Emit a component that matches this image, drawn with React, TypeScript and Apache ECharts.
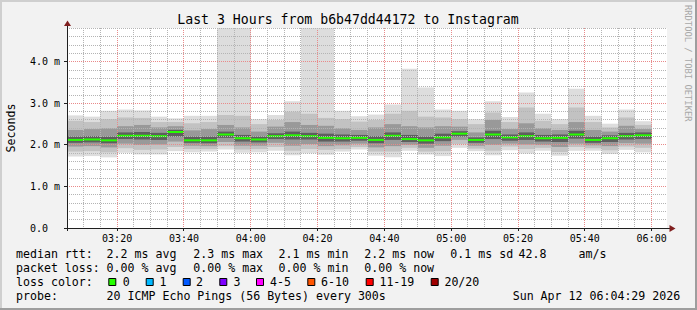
import React, { useEffect, useRef } from 'react';
import * as echarts from 'echarts';

// ---- data ----
const slotStarts = [
  '03:05', '03:10', '03:15', '03:20', '03:25', '03:30', '03:35', '03:40', '03:45', '03:50',
  '03:55', '04:00', '04:05', '04:10', '04:15', '04:20', '04:25', '04:30', '04:35', '04:40',
  '04:45', '04:50', '04:55', '05:00', '05:05', '05:10', '05:15', '05:20', '05:25', '05:30',
  '05:35', '05:40', '05:45', '05:50', '05:55',
];
const medianRtt = [2.12, 2.13, 2.11, 2.22, 2.22, 2.21, 2.31, 2.11, 2.11, 2.25, 2.16, 2.13, 2.21, 2.23, 2.21, 2.17, 2.16, 2.17, 2.12, 2.22, 2.14, 2.11, 2.18, 2.27, 2.12, 2.25, 2.18, 2.21, 2.16, 2.17, 2.25, 2.12, 2.16, 2.21, 2.23];
const minRtt = [1.72, 1.73, 1.70, 1.81, 1.77, 1.77, 1.85, 1.82, 1.84, 1.89, 1.81, 1.82, 1.86, 1.75, 1.80, 1.76, 1.84, 1.89, 1.74, 1.70, 1.86, 1.77, 1.73, 1.93, 1.85, 1.75, 1.87, 1.79, 1.86, 1.74, 1.86, 1.86, 1.78, 1.88, 1.82];
const p3Rtt = [1.84, 1.85, 1.82, 1.92, 1.88, 1.89, 1.95, 1.90, 1.90, 1.97, 1.89, 1.90, 1.95, 1.86, 1.90, 1.88, 1.90, 1.95, 1.84, 1.84, 1.93, 1.84, 1.85, 2.02, 1.91, 1.86, 1.96, 1.90, 1.93, 1.83, 1.95, 1.92, 1.87, 1.96, 1.93];
const p6Rtt = [1.96, 1.97, 1.94, 2.03, 2.00, 2.01, 2.08, 1.98, 1.97, 2.07, 1.98, 1.98, 2.05, 1.98, 2.02, 1.97, 1.99, 2.03, 1.94, 1.97, 2.00, 1.93, 1.98, 2.12, 1.98, 2.00, 2.03, 2.01, 2.00, 1.95, 2.03, 1.99, 1.97, 2.04, 2.03];
const p9Rtt = [2.05, 2.06, 2.04, 2.14, 2.13, 2.12, 2.20, 2.05, 2.04, 2.17, 2.08, 2.06, 2.14, 2.13, 2.13, 2.08, 2.08, 2.10, 2.04, 2.12, 2.07, 2.03, 2.09, 2.20, 2.05, 2.14, 2.10, 2.12, 2.08, 2.07, 2.15, 2.05, 2.07, 2.13, 2.14];
const p12Rtt = [2.20, 2.21, 2.20, 2.30, 2.31, 2.29, 2.36, 2.20, 2.20, 2.32, 2.24, 2.20, 2.28, 2.32, 2.29, 2.27, 2.25, 2.24, 2.21, 2.30, 2.24, 2.20, 2.27, 2.33, 2.18, 2.34, 2.25, 2.30, 2.24, 2.25, 2.34, 2.20, 2.23, 2.29, 2.30];
const p15Rtt = [2.36, 2.38, 2.40, 2.45, 2.48, 2.42, 2.45, 2.35, 2.38, 2.48, 2.42, 2.32, 2.44, 2.55, 2.48, 2.46, 2.40, 2.36, 2.42, 2.50, 2.45, 2.42, 2.45, 2.44, 2.30, 2.60, 2.38, 2.52, 2.40, 2.36, 2.55, 2.36, 2.32, 2.46, 2.38];
const p18Rtt = [2.58, 2.55, 2.62, 2.66, 2.65, 2.55, 2.55, 2.52, 2.55, 2.72, 2.70, 2.50, 2.60, 2.80, 2.75, 2.65, 2.62, 2.56, 2.60, 2.75, 2.82, 2.68, 2.66, 2.62, 2.50, 2.78, 2.55, 2.90, 2.58, 2.50, 2.90, 2.55, 2.42, 2.66, 2.48];
const maxRtt = [2.71, 2.68, 2.82, 2.85, 2.83, 2.68, 2.64, 2.70, 2.70, 5.6, 5.3, 2.62, 2.72, 3.05, 5.4, 5.2, 2.82, 2.69, 2.73, 2.97, 3.83, 3.38, 2.85, 2.82, 2.62, 3.05, 2.67, 3.26, 2.75, 2.62, 3.35, 2.70, 2.51, 2.85, 2.57];

const majorTimes = ['03:20', '03:40', '04:00', '04:20', '04:40', '05:00', '05:20', '05:40', '06:00'];
const axisStart = '03:05';
const axisSpanMinutes = 179.6;
const slotMinutes = 5;
const yMax = 4.813;
const yMinorStep = 0.2;

const titleText = 'Last 3 Hours from b6b47dd44172 to Instagram';
const yAxisName = 'Seconds';
const watermark = 'RRDTOOL / TOBI OETIKER';
const rowLabels = ['median rtt:', 'packet loss:', 'loss color:', 'probe:'];
const rttStats = ['2.2 ms avg', '2.3 ms max', '2.1 ms min', '2.2 ms now', '0.1 ms sd'];
const lossStats = ['0.00 % avg', '0.00 % max', '0.00 % min', '0.00 % now'];
const amValue = '42.8';
const amUnit = 'am/s';
const lossColorLabels = ['0', '1', '2', '3', '4-5', '6-10', '11-19', '20/20'];
const lossColors = ['#26ff00', '#00b8ff', '#0059ff', '#7e00ff', '#ff00ff', '#ff5500', '#ff0000', '#a00000'];
const probeText = '20 ICMP Echo Pings (56 Bytes) every 300s';
const dateText = 'Sun Apr 12 06:04:29 2026';

const FONT = "'DejaVu Sans Mono', monospace";
const smokeColors = ['#dddddd', '#c2c2c2', '#999999', '#5e5e5e'];
const GRID_MINOR = '#b4b4b4';
const GRID_MAJOR = '#e98a8a';
const AXIS_COLOR = '#1f1f1f';

function toMinutes(s: string): number {
  const [h, m] = s.split(':').map(Number);
  return h * 60 + m;
}
function pad(n: number): string {
  return n < 10 ? '0' + n : String(n);
}

export default function App() {
  const ref = useRef<HTMLDivElement>(null);
  useEffect(() => {
    document.body.style.margin = '0';
    const chart = echarts.init(ref.current!, undefined, { renderer: 'svg', width: 697, height: 310 });

    const data = slotStarts.map((s, i) => {
      const t = toMinutes(s);
      return [t, t + slotMinutes, minRtt[i], p3Rtt[i], p6Rtt[i], p9Rtt[i], medianRtt[i], p12Rtt[i], p15Rtt[i], p18Rtt[i], maxRtt[i]];
    });

    const xMin = toMinutes(axisStart);
    const xMax = xMin + axisSpanMinutes;
    const majorMinutes = majorTimes.map(toMinutes);
    const gridLeft = 67, gridTop = 28, gridW = 600, gridH = 200;
    const axisY = gridTop + gridH + 0.5;
    const axisX = gridLeft + 0.5;

    const smokeRender = (params: any, api: any) => {
      const cs = params.coordSys;
      const x0 = api.value(0), x1 = api.value(1);
      const left = Math.round(api.coord([x0, 0])[0]);
      const right = Math.round(api.coord([x1, 0])[0]);
      const yOf = (v: number) => Math.max(api.coord([x0, v])[1], cs.y);
      const band = (lo: number, hi: number, color: string) => {
        const yt = yOf(hi), yb = yOf(lo);
        return { type: 'rect', shape: { x: left, y: yt, width: right - left, height: yb - yt }, style: { fill: color } };
      };
      const vals = [2, 3, 4, 5, 6, 7, 8, 9, 10].map((d) => api.value(d));
      const ym = yOf(vals[4]);
      return {
        type: 'group',
        children: [
          band(vals[0], vals[8], smokeColors[0]),
          band(vals[1], vals[7], smokeColors[1]),
          band(vals[2], vals[6], smokeColors[2]),
          band(vals[3], vals[5], smokeColors[3]),
          { type: 'line', shape: { x1: left, y1: ym, x2: right, y2: ym }, style: { stroke: lossColors[0], lineWidth: 2 } },
        ],
      };
    };

    // dotted rrdtool-style grid, drawn over the smoke, plus small major ticks
    const gridRender = (params: any, api: any) => {
      const cs = params.coordSys;
      const top = cs.y, bottom = cs.y + cs.height, left = cs.x, right = cs.x + cs.width;
      const children: any[] = [];
      for (let t = xMin + slotMinutes; t < xMax; t += slotMinutes) {
        const x = Math.floor(api.coord([t, 0])[0]) + 0.5;
        const major = majorMinutes.indexOf(t) >= 0;
        children.push({ type: 'line', shape: { x1: x, y1: top, x2: x, y2: bottom }, style: { stroke: major ? GRID_MAJOR : GRID_MINOR, lineWidth: 1, lineDash: [1, 1] } });
        if (major) {
          children.push({ type: 'line', shape: { x1: x, y1: bottom, x2: x, y2: bottom + 3 }, style: { stroke: AXIS_COLOR, lineWidth: 1 } });
        }
      }
      for (let k = 1; k * yMinorStep < yMax; k++) {
        const v = Math.round(k * yMinorStep * 1000) / 1000;
        const y = Math.floor(api.coord([xMin, v])[1]) + 0.5;
        const major = k % 5 === 0;
        children.push({ type: 'line', shape: { x1: left, y1: y, x2: right, y2: y }, style: { stroke: major ? GRID_MAJOR : GRID_MINOR, lineWidth: 1, lineDash: [1, 1] } });
        if (major) {
          children.push({ type: 'line', shape: { x1: left - 3, y1: y, x2: left, y2: y }, style: { stroke: AXIS_COLOR, lineWidth: 1 } });
        }
      }
      // axis stubs beyond the origin
      children.push({ type: 'line', shape: { x1: left + 0.5, y1: bottom, x2: left + 0.5, y2: bottom + 3 }, style: { stroke: AXIS_COLOR, lineWidth: 1 } });
      children.push({ type: 'line', shape: { x1: left - 3, y1: bottom + 0.5, x2: left, y2: bottom + 0.5 }, style: { stroke: AXIS_COLOR, lineWidth: 1 } });
      return { type: 'group', children };
    };

    const text = (x: number, y: number, t: string, size = 11.6) => ({
      type: 'text', x, y, z: 10,
      style: { text: t, fontSize: size, fontFamily: FONT, fill: '#000', verticalAlign: 'middle', align: 'left' },
    });

    const rowY = [254, 268, 282, 296];
    const statX = [106.6, 193.3, 278.6, 364.3, 450.3];
    const boxX = [108.3, 145.7, 182.7, 219.3, 256, 307.3, 365.7, 430.7];
    const boxLabelX = [122.7, 159.4, 196.1, 233.4, 270.1, 321.1, 379.4, 444.4];

    const graphics: any[] = [
      { type: 'rect', z: 10, shape: { x: 0, y: 0, width: 697, height: 2 }, style: { fill: '#cfcfcf' } },
      { type: 'rect', z: 10, shape: { x: 0, y: 0, width: 2, height: 310 }, style: { fill: '#cfcfcf' } },
      { type: 'rect', z: 10, shape: { x: 0, y: 308, width: 697, height: 2 }, style: { fill: '#9e9e9e' } },
      { type: 'rect', z: 10, shape: { x: 695, y: 0, width: 2, height: 310 }, style: { fill: '#9e9e9e' } },
      { type: 'text', x: 348, y: 19, z: 10, style: { text: titleText, fontSize: 13.2, fontFamily: FONT, fill: '#000', align: 'center', verticalAlign: 'middle' } },
      { type: 'text', x: 10.5, y: 128, z: 10, rotation: Math.PI / 2, style: { text: yAxisName, fontSize: 11.6, fontFamily: FONT, fill: '#000', align: 'center', verticalAlign: 'middle' } },
      { type: 'text', x: 688, y: 5, z: 10, rotation: -Math.PI / 2, style: { text: watermark, fontSize: 8.8, fontFamily: FONT, fill: '#a8a8a8', align: 'left', verticalAlign: 'middle' } },
      { type: 'line', z: 10, shape: { x1: axisX, y1: 24, x2: axisX, y2: gridTop }, style: { stroke: AXIS_COLOR, lineWidth: 1 } },
      { type: 'polygon', z: 10, shape: { points: [[axisX - 3.5, 26], [axisX + 3.5, 26], [axisX, 20.5]] }, style: { fill: '#801f1f' } },
      { type: 'line', z: 10, shape: { x1: gridLeft + gridW, y1: axisY, x2: 671, y2: axisY }, style: { stroke: AXIS_COLOR, lineWidth: 1 } },
      { type: 'polygon', z: 10, shape: { points: [[669.5, axisY - 3.5], [669.5, axisY + 3.5], [675.5, axisY]] }, style: { fill: '#801f1f' } },
    ];
    rowLabels.forEach((t, i) => graphics.push(text(16, rowY[i], t)));
    rttStats.forEach((t, i) => graphics.push(text(statX[i], rowY[0], t)));
    graphics.push(text(518.6, rowY[0], amValue));
    graphics.push(text(578.6, rowY[0], amUnit));
    lossStats.forEach((t, i) => graphics.push(text(statX[i], rowY[1], t)));
    lossColorLabels.forEach((t, i) => {
      graphics.push({ type: 'rect', z: 10, shape: { x: boxX[i] + 0.5, y: 278.5, width: 7, height: 7 }, style: { fill: lossColors[i], stroke: '#000', lineWidth: 1 } });
      graphics.push(text(boxLabelX[i], rowY[2], t));
    });
    graphics.push(text(106.6, rowY[3], probeText));
    graphics.push(text(512.7, rowY[3], dateText));

    const option: any = {
      animation: false,
      backgroundColor: '#f2f2f2',
      grid: { left: gridLeft, top: gridTop, width: gridW, height: gridH, show: true, backgroundColor: '#ffffff', borderWidth: 0, outerBoundsMode: 'none', containLabel: false },
      xAxis: {
        type: 'value', min: xMin, max: xMax, interval: slotMinutes, z: 5,
        axisLine: { show: true, onZero: false, lineStyle: { color: AXIS_COLOR, width: 1 } },
        axisTick: { show: false },
        axisLabel: {
          show: true, margin: 5, fontSize: 10, fontFamily: FONT, color: '#000', showMaxLabel: false, hideOverlap: false,
          formatter: (v: number) => {
            const m = Math.round(v);
            if (Math.abs(v - m) > 1e-6) return '';
            const s = pad(Math.floor(m / 60)) + ':' + pad(m % 60);
            return majorTimes.indexOf(s) >= 0 ? s : '';
          },
        },
        splitLine: { show: false },
      },
      yAxis: {
        type: 'value', min: 0, max: yMax, interval: 1, z: 5,
        axisLine: { show: true, onZero: false, lineStyle: { color: AXIS_COLOR, width: 1 } },
        axisTick: { show: false },
        axisLabel: {
          show: true, align: 'left', margin: 37, fontSize: 10, fontFamily: FONT, color: '#000', showMaxLabel: false,
          formatter: (v: number) => {
            const r = Math.round(v);
            if (Math.abs(v - r) > 1e-6) return '';
            return r === 0 ? '0.0' : r.toFixed(1) + ' m';
          },
        },
        splitLine: { show: false },
      },
      graphic: { elements: graphics },
      series: [
        {
          type: 'custom', z: 2, clip: true, silent: true,
          renderItem: smokeRender, data,
          encode: { x: [0, 1], y: [2, 10] },
        },
        {
          type: 'custom', z: 3, silent: true,
          renderItem: gridRender,
          data: [[xMin, 0]],
          encode: { x: 0, y: 1 },
        },
      ],
    };
    chart.setOption(option);
    return () => chart.dispose();
  }, []);
  return <div ref={ref} style={{ width: 697, height: 310, position: 'absolute', left: 0, top: 0 }} />;
}
